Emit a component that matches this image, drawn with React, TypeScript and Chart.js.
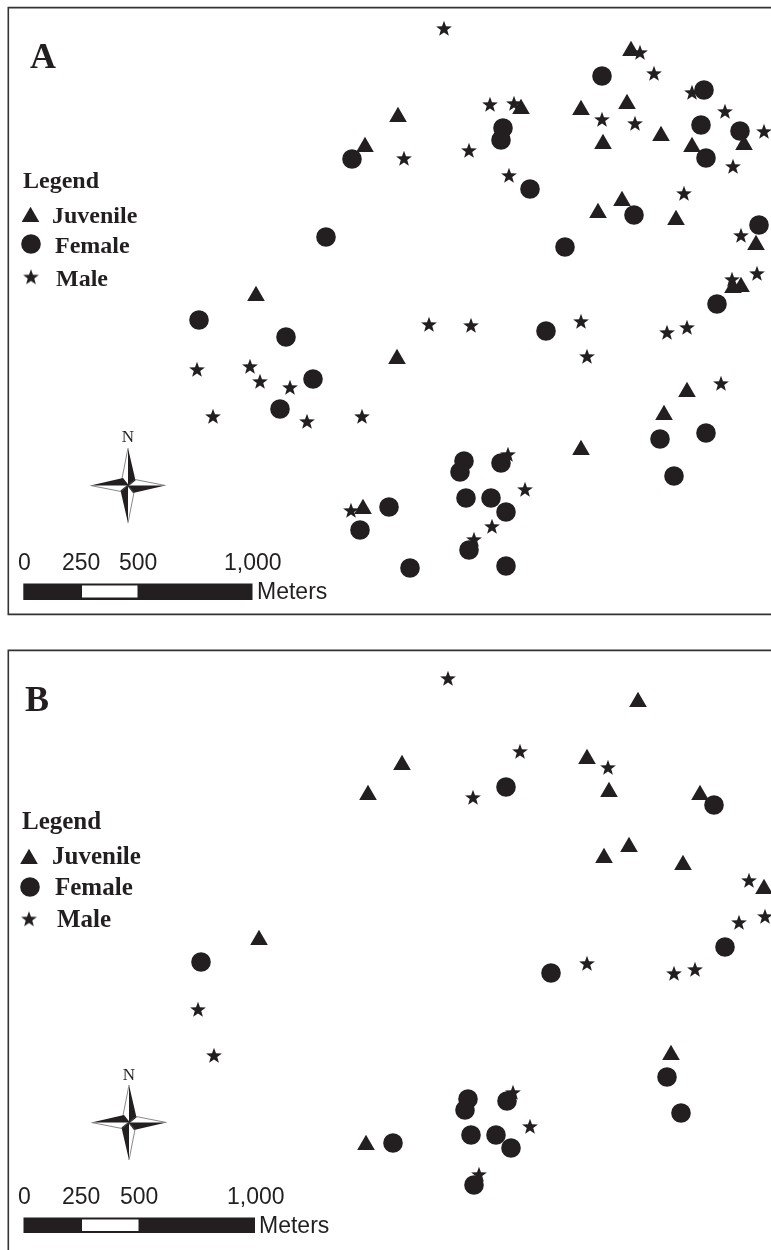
import React, { useEffect, useRef } from "react";
import { Chart, registerables } from "chart.js";
import { drawPoint } from "chart.js/helpers";

Chart.register(...registerables);

// Map readings: [easting, southing] in picture units
const juvenileA = [
  [365, 147], [398, 117], [521, 109], [581, 110], [627, 104], [631, 51], [603, 144], [661, 136],
  [692, 147], [744, 145], [622, 201], [598, 213], [676, 220], [756, 245], [741, 287], [733, 288],
  [256, 296], [397, 359], [687, 392], [664, 415], [581, 450], [363, 509],
];
const femaleA = [
  [352, 159], [326, 237], [602, 76], [704, 90], [503, 128], [501, 140], [701, 125], [740, 131],
  [706, 158], [530, 189], [634, 215], [759, 225], [565, 247], [717, 304], [199, 320], [286, 337],
  [313, 379], [280, 409], [360, 530], [389, 507], [546, 331], [660, 439], [706, 433], [674, 476],
  [464, 461], [460, 472], [501, 463], [466, 498], [491, 498], [506, 512], [469, 550], [410, 568],
  [506, 566],
];
const maleA = [
  [444, 29], [640, 53], [654, 74], [692, 93], [490, 105], [514, 104], [602, 120], [635, 124],
  [725, 112], [764, 132], [404, 159], [469, 151], [509, 176], [733, 167], [684, 194], [741, 236],
  [757, 274], [732, 280], [429, 325], [471, 326], [581, 322], [587, 357], [667, 333], [687, 328],
  [721, 384], [508, 455], [525, 490], [492, 527], [474, 540], [197, 370], [250, 367], [260, 382],
  [290, 388], [213, 417], [307, 422], [362, 417], [351, 511],
];
const juvenileB = [
  [368, 795], [259, 940], [638, 702], [402, 765], [587, 759], [609, 792], [700, 795], [629, 847],
  [604, 858], [683, 865], [764, 889], [366, 1145], [671, 1055],
];
const femaleB = [
  [506, 787], [714, 805], [725, 947], [201, 962], [551, 973], [667, 1077], [681, 1113], [468, 1099],
  [465, 1110], [507, 1101], [471, 1135], [496, 1135], [511, 1148], [474, 1185], [393, 1143],
];
const maleB = [
  [448, 679], [520, 752], [608, 768], [473, 798], [749, 881], [765, 917], [739, 923], [587, 964],
  [674, 974], [695, 970], [513, 1093], [530, 1127], [479, 1175], [198, 1010], [214, 1056],
];
const seriesLabels = ["Juvenile", "Female", "Male"];
const scaleTicks = ["0", "250", "500", "1,000"];
const INK = "#231f20";

function makeStar(): HTMLCanvasElement {
  const c = document.createElement("canvas");
  c.width = 20;
  c.height = 20;
  const g = c.getContext("2d")!;
  g.fillStyle = INK;
  g.beginPath();
  for (let i = 0; i < 10; i++) {
    const r = i % 2 === 0 ? 8.3 : 3.4;
    const a = (i * Math.PI) / 5;
    const px = 10 + Math.sin(a) * r;
    const py = 10 - Math.cos(a) * r;
    if (i === 0) g.moveTo(px, py);
    else g.lineTo(px, py);
  }
  g.closePath();
  g.fill();
  return c;
}

const panelA = {
  letter: "A", letterX: 30, letterY: 68,
  legendSize: 24,
  legendTitle: [23, 188],
  labels: [[52, 223], [55, 253], [56, 286]],
  symbols: [[30.5, 217], [31, 244], [31, 277.5]],
  frame: [8.3, 7.6, 614.4],
  compass: [128, 485.5],
  north: 442,
  tickY: 570,
  tickX: [18, 62, 119, 224],
  bar: [23.3, 252.5, 583.5, 600],
  gap: [82, 137.5, 585.5, 597.5],
  metersX: 257, metersY: 599,
};
const panelB = {
  letter: "B", letterX: 25, letterY: 711,
  legendSize: 25,
  legendTitle: [22, 829],
  labels: [[52, 864], [55, 895], [57, 927]],
  symbols: [[29, 859], [30, 887], [29, 919.5]],
  frame: [8.3, 650.4, null],
  compass: [129, 1122.5],
  north: 1080,
  tickY: 1204,
  tickX: [18, 62, 120, 227],
  bar: [23.5, 255, 1217.5, 1233],
  gap: [82, 138.5, 1219.5, 1231],
  metersX: 259, metersY: 1233,
};

const mapFurniture = {
  id: "mapFurniture",
  afterDatasetsDraw(chart: any, _a: any, p: any) {
    const { ctx, scales } = chart;
    const X = (v: number) => scales.x.getPixelForValue(v);
    const Y = (v: number) => scales.y.getPixelForValue(v);
    const right = chart.width;
    const bottom = chart.height;
    ctx.save();
    ctx.fillStyle = INK;
    ctx.strokeStyle = "#333333";
    ctx.textBaseline = "alphabetic";
    ctx.textAlign = "left";

    // frame (runs off the right edge of the page)
    ctx.lineWidth = 1.6;
    ctx.beginPath();
    const [fx, ft, fb] = p.frame;
    ctx.moveTo(right, Y(ft));
    ctx.lineTo(X(fx), Y(ft));
    if (fb === null) {
      ctx.lineTo(X(fx), bottom);
    } else {
      ctx.lineTo(X(fx), Y(fb));
      ctx.lineTo(right, Y(fb));
    }
    ctx.stroke();

    // panel letter
    ctx.font = 'bold 36px "Liberation Serif"';
    ctx.fillText(p.letter, X(p.letterX), Y(p.letterY));

    // legend
    ctx.font = `bold ${p.legendSize}px "Liberation Serif"`;
    ctx.fillText("Legend", X(p.legendTitle[0]), Y(p.legendTitle[1]));
    chart.data.datasets.forEach((d: any, i: number) => {
      ctx.fillStyle = INK;
      ctx.fillText(d.label, X(p.labels[i][0]), Y(p.labels[i][1]));
      drawPoint(
        ctx,
        { pointStyle: d.pointStyle, radius: d.pointRadius, rotation: 0, borderWidth: 0 },
        X(p.symbols[i][0]),
        Y(p.symbols[i][1])
      );
    });

    // north arrow
    const cx = X(p.compass[0]);
    const cy = Y(p.compass[1]);
    ctx.fillStyle = INK;
    ctx.font = '17px "Liberation Serif"';
    ctx.textAlign = "center";
    ctx.fillText("N", cx, Y(p.north));
    ctx.textAlign = "left";
    for (let i = 0; i < 4; i++) {
      ctx.save();
      ctx.translate(cx, cy);
      ctx.rotate((i * Math.PI) / 2);
      ctx.beginPath();
      ctx.moveTo(0, -37.5);
      ctx.lineTo(7.5, -5);
      ctx.lineTo(0, 1);
      ctx.closePath();
      ctx.fill();
      ctx.lineWidth = 0.7;
      ctx.strokeStyle = "#555555";
      ctx.beginPath();
      ctx.moveTo(0, -37.5);
      ctx.lineTo(-6, -7);
      ctx.lineTo(0, 0);
      ctx.stroke();
      ctx.restore();
    }

    // scale bar
    ctx.fillStyle = INK;
    ctx.font = '23px "Liberation Sans"';
    scaleTicks.forEach((t, i) => ctx.fillText(t, X(p.tickX[i]), Y(p.tickY)));
    ctx.fillText("Meters", X(p.metersX), Y(p.metersY));
    ctx.fillRect(X(p.bar[0]), Y(p.bar[2]), X(p.bar[1]) - X(p.bar[0]), Y(p.bar[3]) - Y(p.bar[2]));
    ctx.fillStyle = "#ffffff";
    ctx.fillRect(X(p.gap[0]), Y(p.gap[2]), X(p.gap[1]) - X(p.gap[0]), Y(p.gap[3]) - Y(p.gap[2]));
    ctx.restore();
  },
};

const toPoints = (rows: number[][]) => rows.map(([x, y]) => ({ x, y }));

function buildChart(
  canvas: HTMLCanvasElement,
  series: number[][][],
  yMin: number,
  yMax: number,
  panel: any,
  star: HTMLCanvasElement
) {
  const styles: any[] = ["triangle", "circle", star];
  const radii = [10.2, 9.8, 8];
  return new Chart(canvas, {
    type: "scatter",
    data: {
      datasets: series.map((rows, i) => ({
        label: seriesLabels[i],
        data: toPoints(rows),
        pointStyle: styles[i],
        pointRadius: radii[i],
        pointBorderWidth: 0,
        backgroundColor: INK,
        borderColor: INK,
        clip: false,
      })),
    },
    options: {
      animation: false,
      responsive: false,
      events: [],
      devicePixelRatio: 1,
      layout: { padding: 0, autoPadding: false },
      scales: {
        x: { type: "linear", min: 0, max: 771, display: false },
        y: { type: "linear", min: yMin, max: yMax, reverse: true, display: false },
      },
      plugins: {
        legend: { display: false },
        tooltip: { enabled: false },
        title: { display: false },
        mapFurniture: panel,
      },
    } as any,
    plugins: [mapFurniture as any],
  });
}

export default function App() {
  const a = useRef<HTMLCanvasElement>(null);
  const b = useRef<HTMLCanvasElement>(null);
  useEffect(() => {
    const star = makeStar();
    const ca = buildChart(a.current!, [juvenileA, femaleA, maleA], 0, 625, panelA, star);
    const cb = buildChart(b.current!, [juvenileB, femaleB, maleB], 625, 1250, panelB, star);
    return () => {
      ca.destroy();
      cb.destroy();
    };
  }, []);
  const canvasStyle: React.CSSProperties = { display: "block", width: 771, height: 625, filter: "blur(0.4px)" };
  return (
    <div style={{ position: "absolute", left: 0, top: 0, width: 771, height: 1250, overflow: "hidden", background: "#fff" }}>
      <canvas ref={a} width={771} height={625} style={canvasStyle} />
      <canvas ref={b} width={771} height={625} style={canvasStyle} />
    </div>
  );
}
